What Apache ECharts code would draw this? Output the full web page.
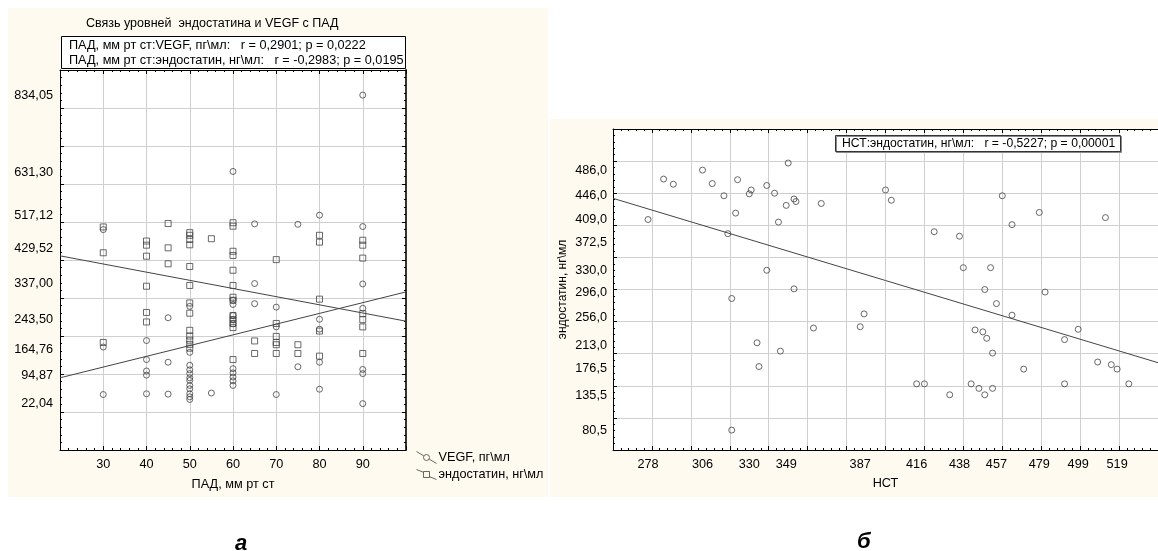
<!DOCTYPE html>
<html lang="ru">
<head>
<meta charset="UTF-8">
<title>Связь уровней эндостатина и VEGF</title>
<script src="https://cdn.jsdelivr.net/npm/echarts@6/dist/echarts.min.js"></script>
<style>
  html, body { margin: 0; padding: 0; background: #fff; }
  #main { width: 1158px; height: 551px; }
</style>
</head>
<body>
<div id="main"></div>
<script>
// ---- panel a: ПАД vs VEGF / эндостатин ----
var padVegfX = [30,30,30, 40,40,40,40,40, 45,45,45,
  50,50,50,50,50,50,50,50,50,50,50,50, 55,
  60,60,60,60,60,60,60,60,60,60,60, 65,65,65, 70,70,70, 75,75,
  80,80,80,80,80, 90,90,90,90,90,90,90];
var vegfY = [480,171,46, 188,138,108,97,48, 248,131,47,
  278,157,123,111,101,90,83,70,61,48,40,33, 50,
  633,283,294,254,243,232,114,103,92,82,70, 495,338,285, 276,224,46, 494,119,
  518,244,218,131,60, 834,488,337,273,112,101,22];

var padEndoX = [30,30,30, 40,40,40,40,40,40, 45,45,45,
  50,50,50,50,50,50,50,50,50,50,50,50,50, 55,
  60,60,60,60,60,60,60,60,60,60,60,60,60, 65,65,
  70,70,70,70,70,70, 75,75, 80,80,80,80,80, 90,90,90,90,90,90,90];
var endoY = [487,419,183, 450,439,410,331,262,237, 496,432,390,
  472,465,454,440,383,333,287,260,215,200,189,178,168, 456,
  498,489,423,412,373,333,302,294,254,243,233,222,138, 187,154,
  401,233,199,183,177,154, 177,154, 465,447,297,213,147, 452,439,405,259,243,224,154];

// regression lines (end points at x = 20 and x = 100)
var vegfFit = [[20, 90], [100, 316]];
var endoFit = [[20, 411], [100, 239]];

var padTicks = [30, 40, 50, 60, 70, 80, 90];
var leftYTicks = [22.04, 94.87, 164.76, 243.50, 337.00, 429.52, 517.12, 631.30, 834.05];

// ---- panel б: НСТ vs эндостатин ----
var hctX = [278,286,291,306,311,317,319,323,324,321,330,331,339,339,343,345,349,350,353,354,353,367,
  400,403,460,479,513,465,425,438,440,454,451,482,457,
  363,334,335,346,321,387,389,
  416,420,433,444,446,450,452,455,448,451,455,465,471,492,492,499,509,516,519,525];
var hctY = [409,472,464,486,465,446,387,419,471,286,449,455,462,330,450,405,431,497,441,437,301,434,
  455,439,446,420,412,401,390,383,334,334,300,296,278,
  240,217,180,204,81,242,262,
  153,153,136,153,237,234,224,201,146,136,146,260,176,222,153,238,187,183,176,153];
var hctFit = [[260, 442], [540, 186]];

var hctTicks = [278, 306, 330, 349, 387, 416, 438, 457, 479, 499, 519];
var rightYTicks = [80.5, 135.5, 176.5, 213.0, 256.0, 296.0, 330.0, 372.5, 409.0, 446.0, 486.0];

function pairs(xs, ys) {
  var out = [];
  for (var i = 0; i < xs.length; i++) out.push([xs[i], ys[i]]);
  return out;
}

var FONT = 'Arial, "Liberation Sans", sans-serif';
var FS = 12.7;
var INK = '#444';
var gridLine = { show: true, lineStyle: { color: '#cfcfcf', width: 1 } };
var frame = { show: true, onZero: false, lineStyle: { color: '#000', width: 1 } };
var tickIn = { show: true, inside: true, length: 4, lineStyle: { color: '#000' } };
var minorIn = { show: true, splitNumber: 5, length: 2, lineStyle: { color: '#000' } };
var lbl = { color: '#000', fontSize: FS, fontFamily: FONT };
var txt = { fontSize: FS, fontWeight: 'normal', color: '#000', fontFamily: FONT };

var myChart = echarts.init(document.getElementById('main'));

var option = {
  backgroundColor: '#fff',
  animation: false,
  graphic: [
    { type: 'rect', z: -10, shape: { x: 8, y: 8, width: 540, height: 489 }, style: { fill: '#fefaf0' } },
    { type: 'rect', z: -10, shape: { x: 550, y: 119, width: 608, height: 378 }, style: { fill: '#fefaf0' } }
  ],
  title: [
    { text: 'Связь уровней  эндостатина и VEGF с ПАД', left: 86, top: 17, padding: 0,
      textStyle: Object.assign({}, txt, { fontSize: 12.5 }) },
    { text: 'ПАД, мм рт ст:VEGF, пг\\мл:   r = 0,2901; p = 0,0222\nПАД, мм рт ст:эндостатин, нг\\мл:   r = -0,2983; p = 0,0195',
      left: 61, top: 36, padding: [2, 2, 1, 8], borderColor: '#000', borderWidth: 1, backgroundColor: '#fff',
      textStyle: Object.assign({}, txt, { lineHeight: 15 }) },
    { text: 'НСТ:эндостатин, нг\\мл:   r = -0,5227; p = 0,00001',
      left: 835, top: 135, padding: [2, 6, 1, 7], borderColor: '#333', borderWidth: 1, backgroundColor: '#fff',
      shadowColor: '#888', shadowOffsetX: 1, shadowOffsetY: 1, shadowBlur: 0,
      textStyle: Object.assign({}, txt, { fontSize: 12.2, lineHeight: 14 }) },
    { text: 'а', left: 235, top: 533, padding: 0,
      textStyle: { fontSize: 22, fontWeight: 'bold', fontStyle: 'italic', color: '#000', fontFamily: FONT } },
    { text: 'б', left: 857, top: 531, padding: 0,
      textStyle: { fontSize: 22, fontWeight: 'bold', fontStyle: 'italic', color: '#000', fontFamily: FONT } }
  ],
  legend: {
    orient: 'vertical', left: 411, top: 446, itemWidth: 20, itemHeight: 12, itemGap: 4,
    textStyle: { color: '#000', fontSize: FS, fontFamily: FONT, padding: [0, 0, 0, -3] },
    itemStyle: { color: 'rgba(0,0,0,0)', borderColor: INK, borderWidth: 1 },
    selectedMode: false,
    data: [
      { name: 'VEGF, пг\\мл', icon: 'path://M0,0L7.3,4.4M12.7,7.6L20,12M13,6A3,3,0,1,1,7,6A3,3,0,1,1,13,6Z' },
      { name: 'эндостатин, нг\\мл', icon: 'path://M0,1L7,3.8M13,8.2L20,11M7,3H13V9H7Z' }
    ]
  },
  grid: [
    { left: 60, top: 70, width: 346, height: 380, show: true, backgroundColor: '#fff', borderWidth: 0 },
    { left: 613, top: 129, width: 550, height: 321, show: true, backgroundColor: '#fff', borderWidth: 0 }
  ],
  xAxis: [
    { type: 'value', gridIndex: 0, position: 'bottom', min: 20, max: 100, interval: 10,
      axisLine: frame, axisTick: tickIn, minorTick: minorIn, splitLine: gridLine,
      axisLabel: Object.assign({ margin: 8, customValues: padTicks }, lbl),
      name: 'ПАД, мм рт ст', nameLocation: 'middle', nameGap: 28,
      nameTextStyle: { color: '#000', fontSize: FS, fontFamily: FONT } },
    { type: 'value', gridIndex: 0, position: 'top', min: 20, max: 100, interval: 10,
      axisLine: frame, axisTick: tickIn, minorTick: minorIn, splitLine: { show: false },
      axisLabel: { show: false } },
    { type: 'value', gridIndex: 1, position: 'bottom', min: 260, max: 540, interval: 20,
      axisLine: frame, axisTick: tickIn, minorTick: minorIn, splitLine: gridLine,
      axisLabel: Object.assign({ margin: 8, customValues: hctTicks }, lbl),
      name: 'НСТ', nameLocation: 'middle', nameGap: 27,
      nameTextStyle: { color: '#000', fontSize: FS, fontFamily: FONT } },
    { type: 'value', gridIndex: 1, position: 'top', min: 260, max: 540, interval: 20,
      axisLine: frame, axisTick: tickIn, minorTick: minorIn, splitLine: { show: false },
      axisLabel: { show: false } }
  ],
  yAxis: [
    { type: 'value', gridIndex: 0, position: 'left', min: -100, max: 900, interval: 100,
      axisLine: frame, axisTick: tickIn, minorTick: minorIn, splitLine: gridLine,
      axisLabel: Object.assign({ margin: 7, customValues: leftYTicks,
        formatter: function (v) { return v.toFixed(2).replace('.', ','); } }, lbl) },
    { type: 'value', gridIndex: 0, position: 'right', min: -100, max: 900, interval: 100,
      axisLine: { show: true, onZero: false, lineStyle: { color: '#333', width: 2 } },
      axisTick: tickIn, minorTick: minorIn, splitLine: { show: false }, axisLabel: { show: false } },
    { type: 'value', gridIndex: 1, position: 'left', min: 50, max: 550, interval: 50,
      axisLine: frame, axisTick: tickIn, minorTick: minorIn, splitLine: gridLine,
      axisLabel: Object.assign({ margin: 6, customValues: rightYTicks,
        formatter: function (v) { return v.toFixed(1).replace('.', ','); } }, lbl),
      name: 'эндостатин, нг\\мл', nameLocation: 'middle', nameGap: 44,
      nameTextStyle: { color: '#000', fontSize: 12, fontFamily: FONT } }
  ],
  series: [
    { name: 'VEGF, пг\\мл', type: 'scatter', xAxisIndex: 0, yAxisIndex: 0,
      symbol: 'circle', symbolSize: 6,
      itemStyle: { color: 'rgba(0,0,0,0)', borderColor: INK, borderWidth: 1 },
      data: pairs(padVegfX, vegfY) },
    { name: 'эндостатин, нг\\мл', type: 'scatter', xAxisIndex: 0, yAxisIndex: 0,
      symbol: 'rect', symbolSize: 6,
      itemStyle: { color: 'rgba(0,0,0,0)', borderColor: INK, borderWidth: 1 },
      data: pairs(padEndoX, endoY) },
    { name: 'VEGF fit', type: 'line', xAxisIndex: 0, yAxisIndex: 0, showSymbol: false,
      lineStyle: { color: INK, width: 1 }, data: vegfFit },
    { name: 'endo fit', type: 'line', xAxisIndex: 0, yAxisIndex: 0, showSymbol: false,
      lineStyle: { color: INK, width: 1 }, data: endoFit },
    { name: 'НСТ', type: 'scatter', xAxisIndex: 2, yAxisIndex: 2,
      symbol: 'circle', symbolSize: 6,
      itemStyle: { color: 'rgba(0,0,0,0)', borderColor: INK, borderWidth: 1 },
      data: pairs(hctX, hctY) },
    { name: 'НСТ fit', type: 'line', xAxisIndex: 2, yAxisIndex: 2, showSymbol: false,
      lineStyle: { color: INK, width: 1 }, data: hctFit }
  ]
};
myChart.setOption(option);
</script>
</body>
</html>
